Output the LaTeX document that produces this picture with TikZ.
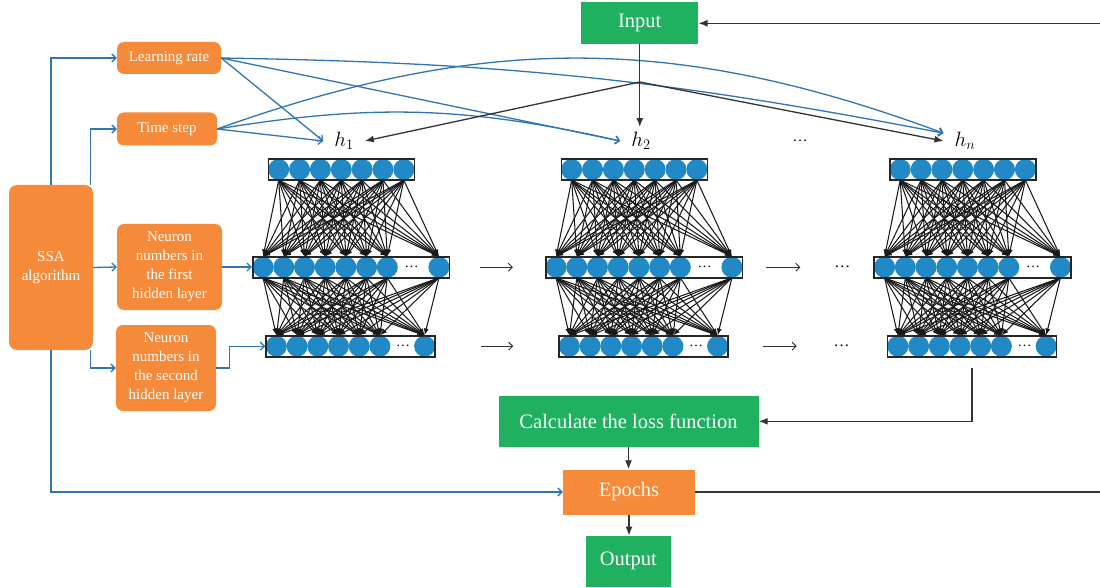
\documentclass[tikz,border=0pt]{standalone}
\usepackage{fontspec}
\setmainfont{Liberation Serif}
\usetikzlibrary{arrows.meta}

\definecolor{boxgreen}{HTML}{1FB160}
\definecolor{boxorange}{HTML}{F58A3B}
\definecolor{linkblue}{HTML}{2F75B5}
\definecolor{unitblue}{HTML}{2189C5}

\tikzset{
  parambox/.style={fill=boxorange, text=white, rounded corners=7pt, align=center, inner sep=0pt, font=\fontsize{15}{19}\selectfont},
  flowbox/.style={text=white, inner sep=0pt, font=\fontsize{20.5}{24}\selectfont},
  netlayer/.style={draw=black!85, line width=1.6pt, minimum height=21pt, inner sep=0pt},
  netunit/.style={circle, fill=unitblue, minimum size=21pt, inner sep=0pt},
  netdots/.style={inner sep=0pt, font=\fontsize{14}{16}\selectfont},
  netweight/.style={draw=black!90, line width=1.05pt, -{Latex[length=7pt,width=5pt]}},
  bluelink/.style={draw=linkblue, line width=1.3pt, -{Straight Barb[length=4pt,width=8pt]}},
  flowarrow/.style={draw=black!80, line width=1.3pt, -{Latex[length=9pt,width=7pt]}},
  steparrow/.style={draw=black!80, line width=0.9pt, -{Straight Barb[length=4pt,width=8pt]}},
  hlabel/.style={inner xsep=11pt, inner ysep=5pt, font=\fontsize{20}{24}\selectfont},
}

\begin{document}
\begin{tikzpicture}[x=1pt, y=-1pt]
\useasboundingbox (0,0) rectangle (1100,588);

 % hyper-parameters
 \node[parambox, minimum width=84pt, minimum height=165pt, rounded corners=8pt] (ssa) at (51,267.5) {SSA\\algorithm};
 \node[parambox, minimum width=104pt, minimum height=32pt] (lr) at (169,58) {Learning rate};
 \node[parambox, minimum width=100pt, minimum height=33pt] (ts) at (167,129) {Time step};
 \node[parambox, minimum width=105pt, minimum height=86pt] (nf) at (169.5,267) {Neuron\\numbers in\\the first\\hidden layer};
 \node[parambox, minimum width=100pt, minimum height=86pt] (ns) at (166,368) {Neuron\\numbers in\\the second\\hidden layer};

 % main flow
 \node[flowbox, fill=boxgreen, minimum width=117pt, minimum height=42pt] (input) at (639.8,23.3) {Input};
 \node[flowbox, fill=boxgreen, minimum width=260pt, minimum height=51pt] (loss) at (628.5,421.3) {Calculate the loss function};
 \node[flowbox, fill=boxorange, minimum width=132pt, minimum height=45pt] (epochs) at (629,492) {Epochs};
 \node[flowbox, fill=boxgreen, minimum width=85pt, minimum height=51pt] (output) at (628.3,561.3) {Output};

 % one network per time step
 \foreach \b/\dx in {1/0, 2/293, n/621.5} {
   \foreach \i in {1,...,7}
     \node[netunit] (\b-t\i) at ({278.7+20.86*(\i-1)+\dx},169.5) {};
   \foreach \i in {1,...,7}
     \node[netunit] (\b-m\i) at ({263.1+20.7*(\i-1)+\dx},267.2) {};
   \node[netunit] (\b-m8) at ({438.9+\dx},267.2) {};
   \node[netdots] (\b-md) at ({411.7+\dx},267.2) {\ldots};
   \foreach \i in {1,...,6}
     \node[netunit] (\b-b\i) at ({276.4+20.7*(\i-1)+\dx},346.2) {};
   \node[netunit] (\b-b7) at ({424.6+\dx},346.2) {};
   \node[netdots] (\b-bd) at ({403+\dx},346.2) {\ldots};

   \node[netlayer, minimum width=146pt] (t\b) at ({341.3+\dx},169.5) {};
   \node[netlayer, minimum width=196.6pt] (m\b) at ({351+\dx},267.2) {};
   \node[netlayer, minimum width=169pt] (b\b) at ({350.5+\dx},346.2) {};

   % weights
   \foreach \i in {1,...,7}
     \foreach \k in {1,...,8}
       \draw[netweight] (\b-t\i.south) -- (\b-m\k.north);
   \foreach \i in {1,...,8}
     \foreach \k in {1,...,7}
       \draw[netweight] (\b-m\i.south) -- (\b-b\k.north);
 }

 \node[hlabel] (h1) at (344,141) {$h_1$};
 \node[hlabel] (h2) at (641,141) {$h_2$};
 \node[hlabel, font=\fontsize{15}{18}\selectfont] (hdots) at (800,141) {\ldots};
 \node[hlabel] (hn) at (965,141) {$h_n$};

 % arrows between the networks
 \draw[steparrow, shorten <=30pt, shorten >=32pt] (m1.east) -- (m2.west);
 \draw[steparrow, shorten <=23pt, shorten >=73pt] (m2.east) -- (mn.west);
 \draw[steparrow, shorten <=45pt, shorten >=45pt] (b1.east) -- (b2.west);
 \draw[steparrow, shorten <=34pt, shorten >=90pt] (b2.east) -- (bn.west);
 \node[netdots, font=\fontsize{16}{18}\selectfont] (mdots) at ([xshift=-31pt]mn.west) {\ldots};
 \node[netdots, font=\fontsize{16}{18}\selectfont] (bdots) at ([xshift=-45pt]bn.west) {\ldots};

 % SSA links
 \draw[bluelink] (ssa.north) |- (lr.west);
 \draw[bluelink] ([xshift=-3pt]ssa.north east) |- (ts.west);
 \draw[bluelink] (ssa.east) -- (nf.west);
 \draw[bluelink] ([xshift=-3pt]ssa.south east) |- (ns.west);
 \draw[bluelink] (ssa.south) |- (epochs.west);
 \draw[bluelink] (nf.east) -- (nf.east -| m1.west);
 \draw[bluelink] (ns.east) -- ++(13,0) |- (b1.west);

 \draw[bluelink] (lr.east) -- (h1.west);
 \draw[bluelink] (lr.east) -- (h2.west);
 \draw[bluelink] (lr.east) to[bend left=5] (hn.160);
 \draw[bluelink] (ts.east) -- (h1.west);
 \draw[bluelink] (ts.east) to[bend left=11] (h2.west);
 \draw[bluelink] (ts.east) to[bend left=20] (hn.160);

 % input to every network
 \coordinate (split) at (input.south |- 0,82);
 \draw[flowarrow, -] (input.south) -- (split);
 \draw[flowarrow] (split) -- (split |- h2.north);
 \draw[flowarrow] (split) -- (h1.east);
 \draw[flowarrow] (split) -- (hn.west);

 % loss, epochs, output
 \draw[flowarrow] ([yshift=-10pt]bn.south) |- (loss.east);
 \draw[flowarrow] (loss.south) -- (loss.south |- epochs.north);
 \draw[flowarrow] (epochs.south) -- (epochs.south |- output.north);
 \draw[flowarrow] (epochs.east) -- (epochs.east -| 1110,0) |- (input.east);

\end{tikzpicture}
\end{document}
